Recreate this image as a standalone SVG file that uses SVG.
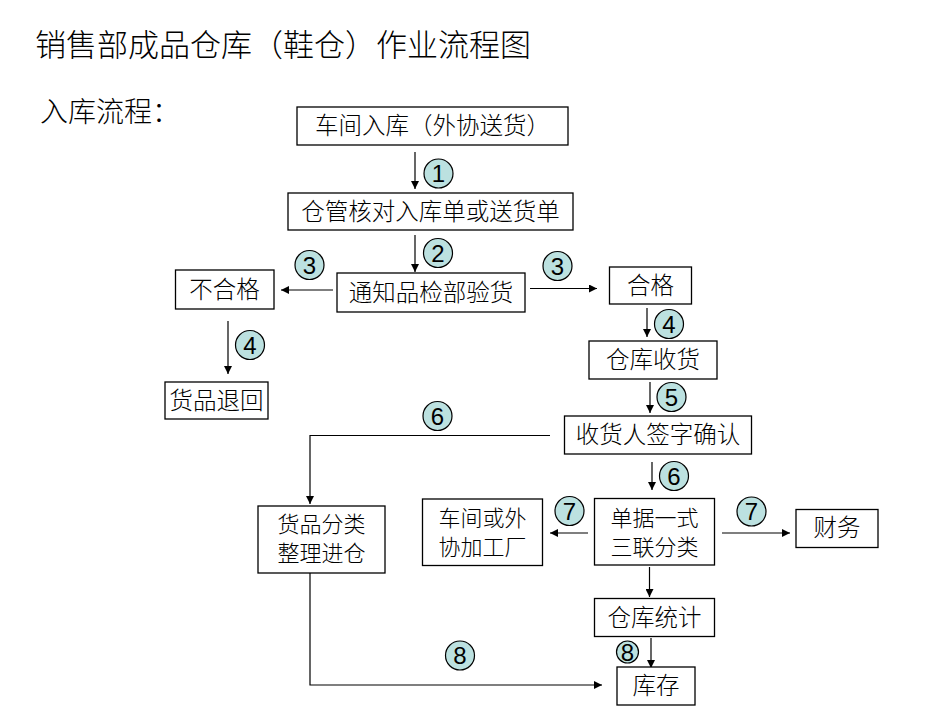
<svg xmlns="http://www.w3.org/2000/svg" width="950" height="713" viewBox="0 0 950 713">
<style>
.box{fill:#fff;stroke:#000;stroke-width:1.3}
.t{font-family:"Noto Sans CJK SC","Noto Sans CJK JP",sans-serif;font-size:23.5px;font-weight:300;fill:#000;text-anchor:middle}
.t2{font-family:"Noto Sans CJK SC","Noto Sans CJK JP",sans-serif;font-size:22px;font-weight:300;fill:#000;text-anchor:middle}
.c{fill:#bce1e0;stroke:#000;stroke-width:1.2}
.n{font-family:"Liberation Sans",Arial,sans-serif;font-size:24px;fill:#000;text-anchor:middle}
.ln{fill:none;stroke:#000;stroke-width:1.2}
</style>
<defs>
<marker id="ah" viewBox="0 0 10 10" refX="10" refY="5" markerWidth="8" markerHeight="8" markerUnits="userSpaceOnUse" orient="auto">
<path d="M0,0 L10,5 L0,10 z" fill="#000"/>
</marker>
</defs>
<rect width="950" height="713" fill="#fff"/>
<text x="35" y="56" style="font-family:'Noto Sans CJK SC',sans-serif;font-size:31px;font-weight:300">销售部成品仓库（鞋仓）作业流程图</text>
<text x="40" y="122" style="font-family:'Noto Sans CJK SC',sans-serif;font-size:28px;font-weight:300">入库流程：</text>

<g id="connectors">
<line class="ln" x1="415" y1="152" x2="415" y2="189" marker-end="url(#ah)"/>
<line class="ln" x1="415" y1="235" x2="415" y2="272" marker-end="url(#ah)"/>
<line class="ln" x1="333" y1="290" x2="281" y2="290" marker-end="url(#ah)"/>
<line class="ln" x1="530" y1="288.5" x2="597" y2="288.5" marker-end="url(#ah)"/>
<line class="ln" x1="228" y1="321" x2="228" y2="374" marker-end="url(#ah)"/>
<line class="ln" x1="647" y1="308" x2="647" y2="337" marker-end="url(#ah)"/>
<line class="ln" x1="650" y1="382" x2="650" y2="413" marker-end="url(#ah)"/>
<polyline class="ln" points="550,435.5 310,435.5 310,504" marker-end="url(#ah)"/>
<line class="ln" x1="652" y1="462" x2="652" y2="490" marker-end="url(#ah)"/>
<line class="ln" x1="588" y1="533" x2="550" y2="533" marker-end="url(#ah)"/>
<line class="ln" x1="722" y1="533" x2="790" y2="533" marker-end="url(#ah)"/>
<line class="ln" x1="649.5" y1="567" x2="649.5" y2="597" marker-end="url(#ah)"/>
<line class="ln" x1="651" y1="638" x2="651" y2="668" marker-end="url(#ah)"/>
<polyline class="ln" points="310,573 310,685 602,685" marker-end="url(#ah)"/>
</g>

<g id="n1"><rect class="box" x="297" y="107" width="271" height="38"/><text class="t" x="432.5" y="134">车间入库（外协送货）</text></g>
<g id="n2"><rect class="box" x="288" y="193" width="285" height="37"/><text class="t" x="430.5" y="220">仓管核对入库单或送货单</text></g>
<g id="n3"><rect class="box" x="337" y="273" width="188" height="39"/><text class="t" x="431" y="301">通知品检部验货</text></g>
<g id="n4"><rect class="box" x="175.5" y="270" width="98.5" height="39"/><text class="t" x="224.5" y="298">不合格</text></g>
<g id="n5"><rect class="box" x="165" y="382" width="103" height="37"/><text class="t" x="216.5" y="409">货品退回</text></g>
<g id="n6"><rect class="box" x="609.5" y="267" width="82" height="37"/><text class="t" x="650.5" y="294">合格</text></g>
<g id="n7"><rect class="box" x="589" y="341" width="128" height="38"/><text class="t" x="653" y="368">仓库收货</text></g>
<g id="n8"><rect class="box" x="564.5" y="416" width="187" height="38"/><text class="t" x="658" y="443">收货人签字确认</text></g>
<g id="n9"><rect class="box" x="258" y="506" width="127" height="67"/><text class="t2" x="321.5" y="532">货品分类</text><text class="t2" x="321.5" y="561">整理进仓</text></g>
<g id="n10"><rect class="box" x="422.5" y="499" width="120" height="66.5"/><text class="t2" x="482.5" y="526">车间或外</text><text class="t2" x="482.5" y="555">协加工厂</text></g>
<g id="n11"><rect class="box" x="594.5" y="498.5" width="120" height="66.5"/><text class="t2" x="654.5" y="526">单据一式</text><text class="t2" x="654.5" y="555">三联分类</text></g>
<g id="n12"><rect class="box" x="796" y="509.5" width="82" height="38"/><text class="t" x="837" y="536">财务</text></g>
<g id="n13"><rect class="box" x="594.5" y="598.5" width="120" height="38"/><text class="t" x="654.5" y="626">仓库统计</text></g>
<g id="n14"><rect class="box" x="617" y="667" width="78" height="38"/><text class="t" x="656" y="694">库存</text></g>

<g id="steps">
<circle class="c" cx="438.5" cy="173.5" r="14.5"/><text class="n" x="438.5" y="182">1</text>
<circle class="c" cx="438" cy="253" r="14.5"/><text class="n" x="438" y="261.5">2</text>
<circle class="c" cx="309.5" cy="265" r="14.5"/><text class="n" x="309.5" y="273.5">3</text>
<circle class="c" cx="557.5" cy="266" r="14.5"/><text class="n" x="557.5" y="274.5">3</text>
<circle class="c" cx="250" cy="345" r="14.5"/><text class="n" x="250" y="353.5">4</text>
<circle class="c" cx="669" cy="324" r="14.5"/><text class="n" x="669" y="332.5">4</text>
<circle class="c" cx="671.5" cy="397" r="14.5"/><text class="n" x="671.5" y="405.5">5</text>
<circle class="c" cx="437.5" cy="416" r="14.5"/><text class="n" x="437.5" y="424.5">6</text>
<circle class="c" cx="674" cy="476" r="14.5"/><text class="n" x="674" y="484.5">6</text>
<circle class="c" cx="569.5" cy="511" r="14.5"/><text class="n" x="569.5" y="519.5">7</text>
<circle class="c" cx="751.5" cy="511.5" r="14.5"/><text class="n" x="751.5" y="520">7</text>
<circle class="c" cx="460" cy="655.5" r="14.5"/><text class="n" x="460" y="664">8</text>
<circle class="c" cx="627.5" cy="652" r="11"/><text class="n" x="627.5" y="660.5">8</text>
</g>
</svg>
